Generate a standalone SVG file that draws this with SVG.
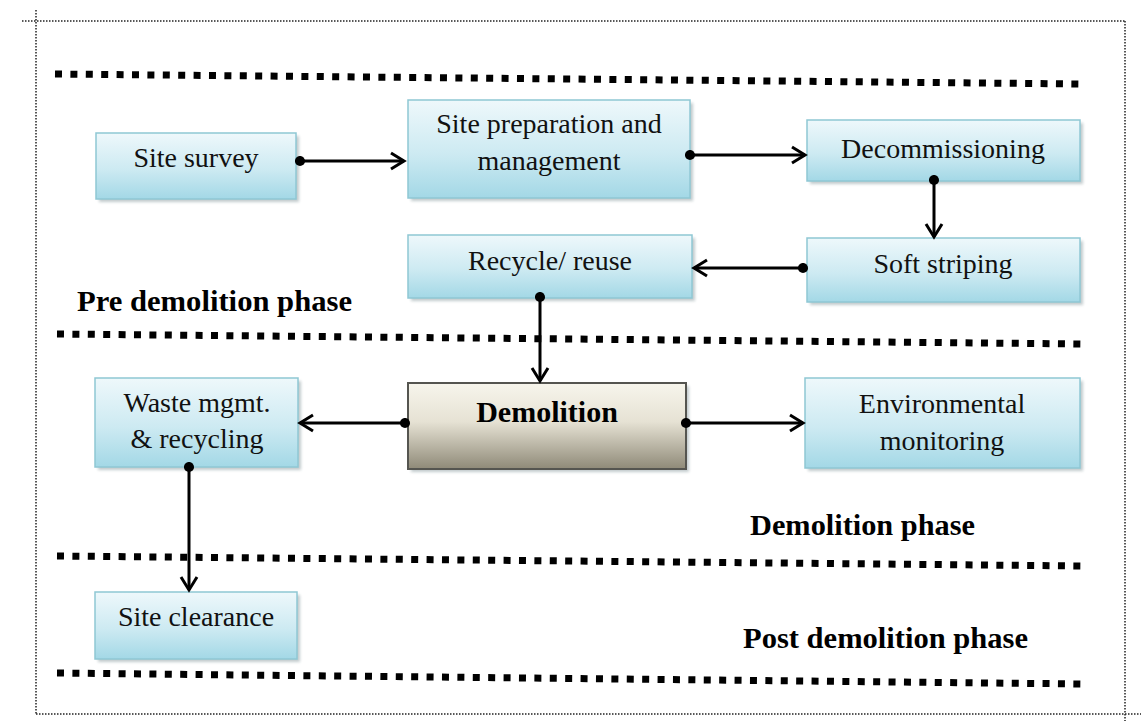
<svg xmlns="http://www.w3.org/2000/svg" width="1141" height="721" viewBox="0 0 1141 721">
<defs>
<linearGradient id="blue" x1="0" y1="0" x2="0" y2="1">
<stop offset="0" stop-color="#eef8fb"/>
<stop offset="0.55" stop-color="#cdeaf2"/>
<stop offset="1" stop-color="#a3d8e6"/>
</linearGradient>
<linearGradient id="tan" x1="0" y1="0" x2="0" y2="1">
<stop offset="0" stop-color="#f7f5ec"/>
<stop offset="0.45" stop-color="#e6e2d4"/>
<stop offset="1" stop-color="#8f8a78"/>
</linearGradient>
<filter id="sh" x="-10%" y="-10%" width="120%" height="130%">
<feGaussianBlur stdDeviation="1.5"/>
</filter>
<marker id="arr" viewBox="0 0 20 20" refX="17" refY="10" markerWidth="20" markerHeight="20" markerUnits="userSpaceOnUse" orient="auto">
<path d="M4,2 L17,10 L4,18" fill="none" stroke="#000" stroke-width="3"/>
</marker>
<marker id="dot" viewBox="0 0 12 12" refX="6" refY="6" markerWidth="11" markerHeight="11" markerUnits="userSpaceOnUse">
<circle cx="6" cy="6" r="5.5" fill="#000"/>
</marker>
</defs>
<style>
.frame{stroke:#222;stroke-width:1.5;stroke-dasharray:1.5 1.5;fill:none}
.sep{stroke:#000;stroke-width:7;stroke-dasharray:7 8.4;fill:none}
.box{fill:url(#blue);stroke:#8fc7d4;stroke-width:1.5}
.shadow{fill:#9aa8ac;opacity:0.6;filter:url(#sh)}
.dbox{fill:url(#tan);stroke:#555550;stroke-width:2}
.t{font-family:"Liberation Serif","Times New Roman",serif;font-size:28px;fill:#111;text-anchor:middle}
.b{font-family:"Liberation Serif","Times New Roman",serif;font-size:30px;font-weight:bold;fill:#000}
.c{stroke:#000;stroke-width:3;fill:none;marker-start:url(#dot);marker-end:url(#arr)}
</style>
<rect x="0" y="0" width="1141" height="721" fill="#fff"/>
<g id="frame">
<line class="frame" x1="22" y1="21" x2="1125" y2="21"/>
<line class="frame" x1="36" y1="10" x2="36" y2="714"/>
<line class="frame" x1="1125" y1="21" x2="1125" y2="721"/>
<line class="frame" x1="36" y1="714" x2="1141" y2="714"/>
</g>
<g id="separators">
<line class="sep" x1="55" y1="74" x2="1083" y2="84"/>
<line class="sep" x1="57" y1="334" x2="1085" y2="344"/>
<line class="sep" x1="57" y1="556" x2="1085" y2="566"/>
<line class="sep" x1="57" y1="673" x2="1085" y2="684"/>
</g>
<g id="phase-labels">
<text class="b" x="77" y="311" textLength="275" lengthAdjust="spacingAndGlyphs">Pre demolition phase</text>
<text class="b" x="750" y="535" textLength="225" lengthAdjust="spacingAndGlyphs">Demolition phase</text>
<text class="b" x="743" y="648" textLength="285" lengthAdjust="spacingAndGlyphs">Post demolition phase</text>
</g>
<g id="site-survey">
<rect class="shadow" x="99" y="136" width="200" height="66"/>
<rect class="box" x="96" y="133" width="200" height="66"/>
<text class="t" x="196" y="167">Site survey</text>
</g>
<g id="site-preparation">
<rect class="shadow" x="411" y="103" width="282" height="98"/>
<rect class="box" x="408" y="100" width="282" height="98"/>
<text class="t" x="549" y="133">Site preparation and</text>
<text class="t" x="549" y="170">management</text>
</g>
<g id="decommissioning">
<rect class="shadow" x="810" y="123" width="273" height="61"/>
<rect class="box" x="807" y="120" width="273" height="61"/>
<text class="t" x="943" y="158">Decommissioning</text>
</g>
<g id="soft-striping">
<rect class="shadow" x="810" y="241" width="273" height="64"/>
<rect class="box" x="807" y="238" width="273" height="64"/>
<text class="t" x="943" y="273">Soft striping</text>
</g>
<g id="recycle-reuse">
<rect class="shadow" x="411" y="238" width="284" height="63"/>
<rect class="box" x="408" y="235" width="284" height="63"/>
<text class="t" x="550" y="270">Recycle/ reuse</text>
</g>
<g id="demolition">
<rect class="shadow" x="411" y="386" width="278" height="86"/>
<rect class="dbox" x="408" y="383" width="278" height="86"/>
<text class="b" x="547" y="422" text-anchor="middle">Demolition</text>
</g>
<g id="waste-mgmt">
<rect class="shadow" x="98" y="381" width="203" height="89"/>
<rect class="box" x="95" y="378" width="203" height="89"/>
<text class="t" x="197" y="412">Waste mgmt.</text>
<text class="t" x="197" y="448">&amp; recycling</text>
</g>
<g id="environmental-monitoring">
<rect class="shadow" x="808" y="381" width="275" height="90"/>
<rect class="box" x="805" y="378" width="275" height="90"/>
<text class="t" x="942" y="413">Environmental</text>
<text class="t" x="942" y="450">monitoring</text>
</g>
<g id="site-clearance">
<rect class="shadow" x="98" y="595" width="202" height="67"/>
<rect class="box" x="95" y="592" width="202" height="67"/>
<text class="t" x="196" y="626">Site clearance</text>
</g>
<g id="connectors">
<line class="c" x1="300" y1="161" x2="404" y2="161"/>
<line class="c" x1="690" y1="155" x2="805" y2="155"/>
<line class="c" x1="934" y1="180" x2="934" y2="237"/>
<line class="c" x1="803" y1="268" x2="694" y2="268"/>
<line class="c" x1="540" y1="297" x2="540" y2="381"/>
<line class="c" x1="405" y1="423" x2="300" y2="423"/>
<line class="c" x1="686" y1="423" x2="803" y2="423"/>
<line class="c" x1="189" y1="467" x2="189" y2="590"/>
</g>
</svg>
